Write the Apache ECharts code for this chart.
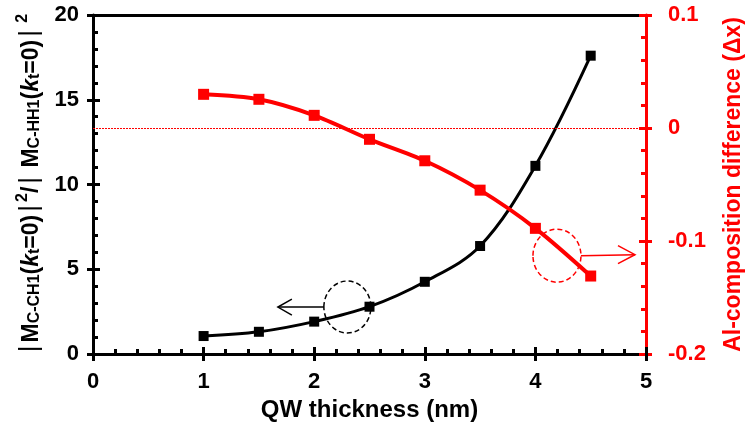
<!DOCTYPE html>
<html>
<head>
<meta charset="utf-8">
<script src="https://cdn.jsdelivr.net/npm/echarts@6/dist/echarts.min.js"></script>
<style>html,body{margin:0;padding:0;background:#fff;}#c{width:745px;height:434px;}</style>
</head>
<body>
<div id="c"></div>
<script>
var thickness = [1, 1.5, 2, 2.5, 3, 3.5, 4, 4.5];
var ratio = [1.06, 1.31, 1.91, 2.79, 4.26, 6.37, 11.1, 17.6];
var alDiff = [0.0298, 0.0254, 0.0112, -0.0100, -0.029, -0.055, -0.0888, -0.131];
var xTicks = [0, 1, 2, 3, 4, 5];
var leftTicks = [0, 5, 10, 15, 20];
var rightTicks = [-0.2, -0.1, 0, 0.1];

var FONT = 'Liberation Sans';
var chart = echarts.init(document.getElementById('c'));

function pairs(xs, ys) { return xs.map(function (x, i) { return [x, ys[i]]; }); }

var leftName = '{bar||}{b|M}{s|C-CH1}{b|(}{i|k}{s|t}{b|=0)}{bar||}{sup|2}{b|/}{bar||}{b| M}{s|C-HH1}{b|(}{i|k}{s|t}{b|=0)}{bar||}{sup| 2}';

var GRID = { left: 93, right: 99, top: 15, bottom: 80, outerBoundsMode: 'none', containLabel: false };
var xMin = xTicks[0], xMax = xTicks[xTicks.length - 1];
var lMin = leftTicks[0], lMax = leftTicks[leftTicks.length - 1];
var rMin = rightTicks[0], rMax = rightTicks[rightTicks.length - 1];

var option = {
  animation: false,
  backgroundColor: '#fff',
  grid: [
    Object.assign({}, GRID),
    Object.assign({}, GRID)
  ],
  xAxis: [
    {
      gridIndex: 0, type: 'value', min: xMin, max: xMax, interval: 1,
      position: 'bottom',
      axisLine: { show: true, onZero: false, lineStyle: { color: '#000', width: 3 } },
      axisTick: { show: true, inside: true, length: 7, lineStyle: { color: '#000', width: 3 } },
      minorTick: { show: true, splitNumber: 5, length: 5, lineStyle: { color: '#000', width: 3 } },
      splitLine: { show: false },
      axisLabel: { color: '#000', fontFamily: FONT, fontWeight: 'bold', fontSize: 22, margin: 17 },
      name: 'QW thickness (nm)', nameLocation: 'middle', nameGap: 44,
      nameTextStyle: { color: '#000', fontFamily: FONT, fontWeight: 'bold', fontSize: 24 }
    },
    {
      gridIndex: 1, type: 'value', min: xMin, max: xMax, interval: 1,
      position: 'bottom',
      axisLine: { show: false, onZero: false },
      axisTick: { show: true, inside: false, length: 7, lineStyle: { color: '#000', width: 3 } },
      splitLine: { show: false },
      axisLabel: { show: false }
    },
    {
      gridIndex: 1, type: 'value', min: xMin, max: xMax, interval: 1,
      position: 'top',
      axisLine: { show: true, onZero: false, lineStyle: { color: '#000', width: 3 } },
      axisTick: { show: false }, splitLine: { show: false }, axisLabel: { show: false }
    }
  ],
  yAxis: [
    {
      gridIndex: 0, type: 'value', min: lMin, max: lMax, interval: 5,
      position: 'left',
      axisLine: { show: true, onZero: false, lineStyle: { color: '#000', width: 3 } },
      axisTick: { show: true, inside: true, length: 7, lineStyle: { color: '#000', width: 3 } },
      minorTick: { show: true, splitNumber: 5, length: 5, lineStyle: { color: '#000', width: 3 } },
      splitLine: { show: false },
      axisLabel: { color: '#000', fontFamily: FONT, fontWeight: 'bold', fontSize: 22, margin: 14 },
      name: leftName, nameLocation: 'middle', nameGap: 50, nameRotate: 90,
      nameTextStyle: {
        color: '#000', fontFamily: FONT,
        rich: {
          b: { fontFamily: FONT, fontWeight: 'bold', fontSize: 23, color: '#000', verticalAlign: 'bottom', lineHeight: 28 },
          i: { fontFamily: FONT, fontWeight: 'bold', fontStyle: 'italic', fontSize: 23, color: '#000', verticalAlign: 'bottom', lineHeight: 28 },
          s: { fontFamily: FONT, fontWeight: 'bold', fontSize: 16, color: '#000', verticalAlign: 'bottom', lineHeight: 11 },
          sup: { fontFamily: FONT, fontWeight: 'bold', fontSize: 16, color: '#000', verticalAlign: 'top', lineHeight: 15 },
          bar: { fontFamily: FONT, fontWeight: 'normal', fontSize: 26, color: '#000', verticalAlign: 'bottom', lineHeight: 28, padding: [0, 3, 0, 3] }
        }
      }
    },
    {
      gridIndex: 0, type: 'value', min: rMin, max: rMax, interval: 0.1,
      position: 'right',
      axisLine: { show: true, onZero: false, lineStyle: { color: '#ff0000', width: 3 } },
      axisTick: { show: true, inside: true, length: 7, lineStyle: { color: '#ff0000', width: 3 } },
      minorTick: { show: true, splitNumber: 5, length: 5, lineStyle: { color: '#ff0000', width: 3 } },
      splitLine: { show: false },
      axisLabel: { color: '#ff0000', fontFamily: FONT, fontWeight: 'bold', fontSize: 22, margin: 22, align: 'left',
        formatter: function (v) { return String(Math.round(v * 10) / 10); } },
      name: 'Al-composition difference (\u0394x)', nameLocation: 'middle', nameGap: 76, nameRotate: 90,
      nameTextStyle: { color: '#ff0000', fontFamily: FONT, fontWeight: 'bold', fontSize: 23 }
    },
    {
      gridIndex: 1, type: 'value', min: lMin, max: lMax, interval: 5,
      position: 'left',
      axisLine: { show: false, onZero: false },
      axisTick: { show: true, inside: false, length: 6, lineStyle: { color: '#000', width: 3 } },
      splitLine: { show: false }, axisLabel: { show: false }
    },
    {
      gridIndex: 1, type: 'value', min: rMin, max: rMax, interval: 0.1,
      position: 'right',
      axisLine: { show: false, onZero: false },
      axisTick: { show: true, inside: false, length: 6, lineStyle: { color: '#ff0000', width: 3 } },
      splitLine: { show: false }, axisLabel: { show: false }
    }
  ],
  series: [
    {
      name: 'ratio', type: 'line', xAxisIndex: 0, yAxisIndex: 0,
      data: pairs(thickness, ratio),
      smooth: 0.35,
      symbol: 'rect', symbolSize: 10,
      lineStyle: { color: '#000', width: 3 },
      itemStyle: { color: '#000' },
      z: 3
    },
    {
      name: 'al', type: 'line', xAxisIndex: 0, yAxisIndex: 1,
      data: pairs(thickness, alDiff),
      smooth: 0.3,
      symbol: 'rect', symbolSize: 11,
      lineStyle: { color: '#ff0000', width: 4 },
      itemStyle: { color: '#ff0000' },
      z: 4,
      markLine: {
        silent: true, symbol: 'none', label: { show: false },
        lineStyle: { color: '#ff0000', type: [2, 1], width: 1 },
        data: [{ yAxis: 0 }]
      }
    }
  ]
};
chart.setOption(option);

// annotations, positioned from data coordinates
var bc = chart.convertToPixel({ xAxisIndex: 0, yAxisIndex: 0 }, [2.3, 2.77]);
var rc = chart.convertToPixel({ xAxisIndex: 0, yAxisIndex: 1 }, [4.195, -0.113]);
var brx = 23.5, bry = 26, rrx = 24, rry = 26.5;
chart.setOption({
  graphic: [
    { type: 'ellipse', shape: { cx: bc[0], cy: bc[1], rx: brx, ry: bry }, style: { fill: 'none', stroke: '#000', lineWidth: 1.5, lineDash: [5, 3] }, z: 10 },
    { type: 'line', shape: { x1: bc[0] - brx, y1: bc[1], x2: bc[0] - brx - 46, y2: bc[1] }, style: { stroke: '#000', lineWidth: 1.5 }, z: 10 },
    { type: 'polyline', shape: { points: [[bc[0] - brx - 32, bc[1] - 8], [bc[0] - brx - 46, bc[1]], [bc[0] - brx - 32, bc[1] + 8]] }, style: { stroke: '#000', lineWidth: 1.5, fill: 'none' }, z: 10 },
    { type: 'ellipse', shape: { cx: rc[0], cy: rc[1], rx: rrx, ry: rry }, style: { fill: 'none', stroke: '#ff0000', lineWidth: 1.5, lineDash: [5, 3] }, z: 10 },
    { type: 'line', shape: { x1: rc[0] + rrx, y1: rc[1], x2: rc[0] + rrx + 54, y2: rc[1] - 1 }, style: { stroke: '#ff0000', lineWidth: 1.5 }, z: 10 },
    { type: 'polyline', shape: { points: [[rc[0] + rrx + 37, rc[1] - 10], [rc[0] + rrx + 54, rc[1] - 1], [rc[0] + rrx + 37, rc[1] + 8]] }, style: { stroke: '#ff0000', lineWidth: 1.5, fill: 'none' }, z: 10 }
  ]
});
</script>
</body>
</html>
